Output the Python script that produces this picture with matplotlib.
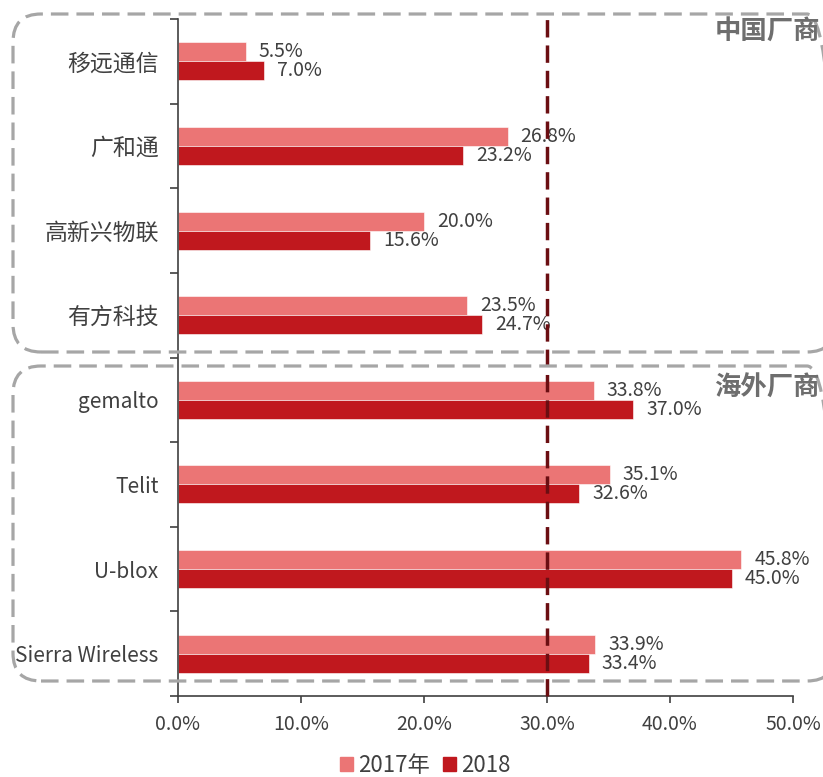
import matplotlib.pyplot as plt
from matplotlib.patches import FancyBboxPatch, Patch
from matplotlib.ticker import FixedLocator

plt.rcParams['font.family'] = ['Noto Sans CJK SC', 'DejaVu Sans']

# data
companies = ['移远通信', '广和通', '高新兴物联', '有方科技',
             'gemalto', 'Telit', 'U-blox', 'Sierra Wireless']
share_2017 = [5.5, 26.8, 20.0, 23.5, 33.8, 35.1, 45.8, 33.9]
share_2018 = [7.0, 23.2, 15.6, 24.7, 37.0, 32.6, 45.0, 33.4]
series_names = ['2017年', '2018']
x_ticks = [0, 10, 20, 30, 40, 50]
ref_line = 30
group_names = ['中国厂商', '海外厂商']

c17 = '#EB7575'
c18 = '#C0181E'
txt = '#404040'

W, H = 823, 777
fig = plt.figure(figsize=(W / 100, H / 100), dpi=100)
ax = fig.add_axes([178 / W, 1 - 696 / H, (793 - 178) / W, (696 - 19) / H])

y = list(range(len(companies)))
bh = 0.225
ax.barh([v - bh / 2 for v in y], share_2017, height=bh, color=c17,
        edgecolor='white', linewidth=0.4)
ax.barh([v + bh / 2 for v in y], share_2018, height=bh, color=c18,
        edgecolor='white', linewidth=0.4)

for i in y:
    ax.annotate(f'{share_2017[i]:.1f}%', (share_2017[i], i - bh / 2),
                xytext=(13, 0), textcoords='offset pixels', va='center',
                ha='left', fontsize=14, color=txt)
    ax.annotate(f'{share_2018[i]:.1f}%', (share_2018[i], i + bh / 2),
                xytext=(13, 0), textcoords='offset pixels', va='center',
                ha='left', fontsize=14, color=txt)

ax.set_xlim(0, 50)
ax.set_ylim(len(companies) - 0.5, -0.5)
ax.set_xticks(x_ticks)
ax.set_xticklabels([f'{v:.1f}%' for v in x_ticks])
ax.set_yticks(y)
ax.set_yticklabels(companies)
for lab, name in zip(ax.get_yticklabels(), companies):
    lab.set_fontsize(16.5 if not name.isascii() else 15)
ax.yaxis.set_minor_locator(FixedLocator([v - 0.5 for v in range(len(companies) + 1)]))
ax.tick_params(axis='y', which='major', length=0, pad=14, labelcolor=txt)
ax.tick_params(axis='y', which='minor', length=6, width=1.2, color='#404040')
ax.tick_params(axis='x', length=5, width=1.2, color='#404040', pad=8,
               labelsize=14, labelcolor=txt)
for s in ['top', 'right']:
    ax.spines[s].set_visible(False)
for s in ['left', 'bottom']:
    ax.spines[s].set_color('#404040')
    ax.spines[s].set_linewidth(1.2)

ax.axvline(ref_line, ymin=0, ymax=1.006, color='#6B0E12', lw=2.5,
           dashes=(5, 2.3), clip_on=False, zorder=5)

# group boxes (drawn in inches)
def box(x0, y0, x1, y1):
    p = FancyBboxPatch((x0 / 100, (H - y1) / 100), (x1 - x0) / 100, (y1 - y0) / 100,
                       boxstyle='round,pad=0,rounding_size=0.28',
                       transform=fig.dpi_scale_trans, fill=False,
                       edgecolor='#A6A6A6', lw=2.3, linestyle=(0, (5.5, 2.5)),
                       clip_on=False)
    fig.add_artist(p)

box(13, 14, 835, 352)
box(13, 366, 835, 681)

fig.text(820 / W, 1 - 32 / H, group_names[0], ha='right', va='center',
         fontsize=19, fontweight='bold', color='#6E6E6E')
fig.text(820 / W, 1 - 388 / H, group_names[1], ha='right', va='center',
         fontsize=19, fontweight='bold', color='#6E6E6E')

handles = [Patch(color=c17), Patch(color=c18)]
fig.legend(handles, series_names, loc='center', bbox_to_anchor=(425 / W, 1 - 765 / H),
           ncol=2, frameon=False, fontsize=16, handlelength=0.6, handleheight=0.6,
           handletextpad=0.2, columnspacing=0.6, labelcolor=txt)

fig.savefig('out.png', dpi=100)
